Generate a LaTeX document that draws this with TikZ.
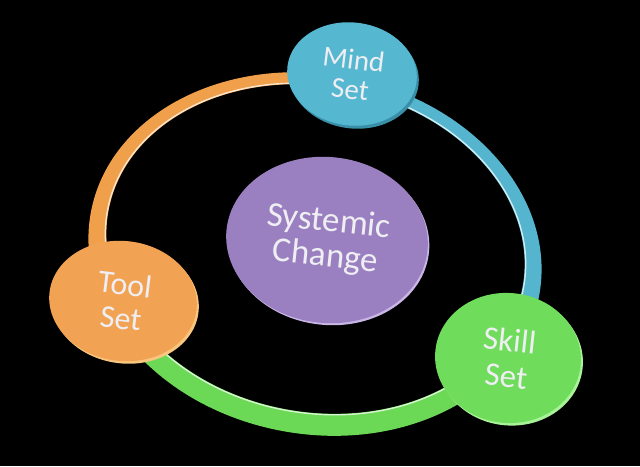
\documentclass[tikz,border=0pt]{standalone}
\usepackage{fontspec}
\setmainfont{Carlito}
\usetikzlibrary{shapes.geometric,shadows}
\definecolor{ringorange}{HTML}{F0A04B}
\definecolor{ringblue}{HTML}{55B5CE}
\definecolor{ringgreen}{HTML}{6BD955}
\definecolor{mindfill}{HTML}{55B7D0}
\definecolor{mindrim}{HTML}{3A8FA8}
\definecolor{toolfill}{HTML}{F2A253}
\definecolor{toolrim}{HTML}{F8C67E}
\definecolor{skillfill}{HTML}{70DC5C}
\definecolor{skillrim}{HTML}{A8F298}
\definecolor{sysfill}{HTML}{9A80C0}
\definecolor{sysrim}{HTML}{C9B6E6}
\definecolor{txtcol}{HTML}{EEEEF3}
\tikzset{
  disc/.style={ellipse, inner sep=0pt, align=center, text=txtcol, draw=none},
  ringpart/.style={even odd rule},
}
\newcommand{\ringshape}{(315,254) ellipse [x radius=228pt, y radius=180pt, rotate=-10.5]
  (315.5,249) ellipse [x radius=210.5pt, y radius=163pt, rotate=-10.5]}
\begin{document}
\begin{tikzpicture}[x=1pt,y=-1pt]
\useasboundingbox (0,0) rectangle (640,466);
\fill[black] (0,0) rectangle (640,466);
% ring segments
\begin{scope}
  \clip (315,252) -- (463,-460) -- (-1000,-1000) -- (-453,448) -- cycle;
  \fill[ringorange, ringpart] \ringshape;
\end{scope}
\begin{scope}
  \clip (315,252) -- (463,-460) -- (1500,-1000) -- (1087,676) -- cycle;
  \fill[ringblue, ringpart] \ringshape;
\end{scope}
\begin{scope}
  \clip (315,252) -- (1087,676) -- (1000,1500) -- (-500,1500) -- (-453,448) -- cycle;
  \fill[ringgreen, ringpart] \ringshape;
\end{scope}
\draw[white, opacity=0.75, line width=1.3pt] (315.5,249) ellipse [x radius=211.6pt, y radius=164pt, rotate=-10.5];
% discs
\node[disc, fill=sysfill, minimum width=202pt, minimum height=166pt, rotate=-6,
      copy shadow={shadow xshift=1.5pt, shadow yshift=-2pt, fill=sysrim, draw=none},
      font=\fontsize{35}{35}\selectfont] (sys) at (327,240) {Systemic\\Change};
\node[disc, fill=mindfill, minimum width=130pt, minimum height=103pt, rotate=-7,
      copy shadow={shadow xshift=2pt, shadow yshift=-3pt, fill=mindrim, draw=none},
      font=\fontsize{29}{30}\selectfont] (mind) at (352,74) {Mind\\Set};
\node[disc, fill=toolfill, minimum width=148pt, minimum height=120pt, rotate=-7,
      copy shadow={shadow xshift=2pt, shadow yshift=-2.5pt, fill=toolrim, draw=none},
      font=\fontsize{32}{34}\selectfont] (tool) at (123,301) {Tool\\Set};
\node[disc, fill=skillfill, minimum width=146pt, minimum height=130pt, rotate=-6,
      copy shadow={shadow xshift=2pt, shadow yshift=-2.5pt, fill=skillrim, draw=none},
      font=\fontsize{33}{36}\selectfont] (skill) at (508,358) {Skill\\Set};
\end{tikzpicture}
\end{document}
